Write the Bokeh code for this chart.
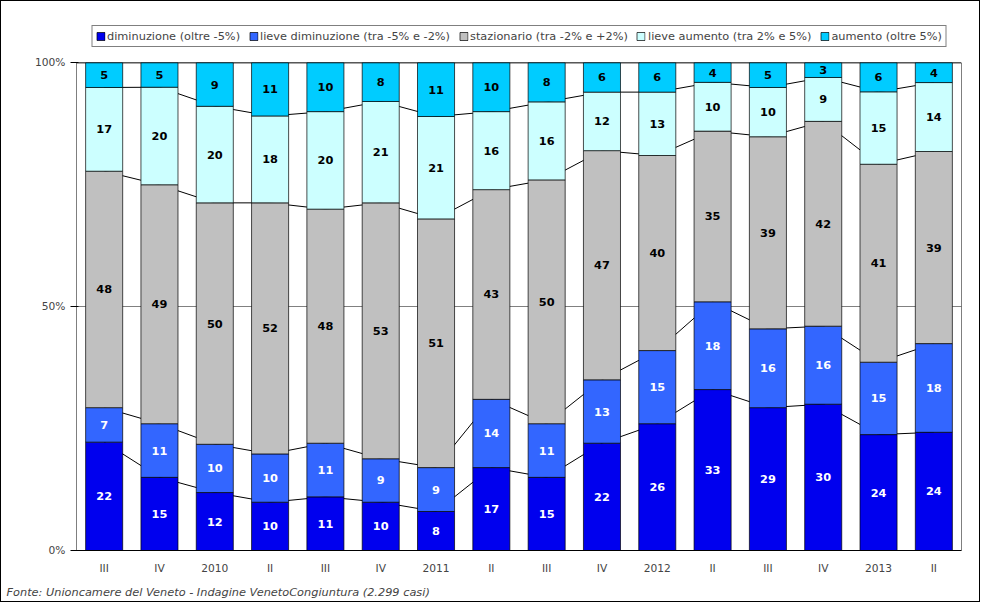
import numpy as np
from bokeh.plotting import figure
from bokeh.models import ColumnDataSource, Legend, LegendItem, FixedTicker, Title
from bokeh.core.properties import value
from bokeh.embed import file_html
from bokeh.resources import INLINE

periods = ["III", "IV", "2010", "II", "III", "IV", "2011", "II", "III", "IV",
           "2012", "II", "III", "IV", "2013", "II"]
diminuzione = [22, 15, 12, 10, 11, 10, 8, 17, 15, 22, 26, 33, 29, 30, 24, 24]
lieve_dim = [7, 11, 10, 10, 11, 9, 9, 14, 11, 13, 15, 18, 16, 16, 15, 18]
stazionario = [48, 49, 50, 52, 48, 53, 51, 43, 50, 47, 40, 35, 39, 42, 41, 39]
lieve_aum = [17, 20, 20, 18, 20, 21, 21, 16, 16, 12, 13, 10, 10, 9, 15, 14]
aumento = [5, 5, 9, 11, 10, 8, 11, 10, 8, 6, 6, 4, 5, 3, 6, 4]

series = [
    ("diminuzione (oltre -5%)", diminuzione, "#0000EE", "white"),
    ("lieve diminuzione (tra -5% e -2%)", lieve_dim, "#3366FF", "white"),
    ("stazionario (tra -2% e +2%)", stazionario, "#C0C0C0", "black"),
    ("lieve aumento (tra 2% e 5%)", lieve_aum, "#CCFFFF", "black"),
    ("aumento (oltre 5%)", aumento, "#00CCFF", "black"),
]

x = np.arange(len(periods))
vals = np.array([s[1] for s in series], dtype=float)
norm = vals / vals.sum(axis=0) * 100
cum = np.cumsum(norm, axis=0)
n = len(periods)

p = figure(width=980, height=602, output_backend="svg", toolbar_location=None,
           x_range=(-0.5, n - 0.5), y_range=(0, 109.3),
           outline_line_color=None, border_fill_color="white",
           min_border_left=75, min_border_right=20, min_border_top=16,
           min_border_bottom=47)
p.styles = {"border": "1px solid black", "box-sizing": "border-box"}

# plot-area frame
p.quad(left=[-0.5], right=[n - 0.5], bottom=[0], top=[100],
       fill_color=None, line_color="black", line_width=1)

# connecting lines behind bars
for k in range(4):
    p.line(x, cum[k], line_color="black", line_width=1)

items = []
for k, (name, v, col, tcol) in enumerate(series):
    bottom = cum[k] - norm[k]
    src = ColumnDataSource(dict(x=x, top=cum[k], bottom=bottom,
                                mid=(cum[k] + bottom) / 2,
                                lab=[str(a) for a in v]))
    r = p.vbar(x="x", width=0.67, top="top", bottom="bottom", source=src,
               fill_color=col, line_color="black", line_width=0.7)
    p.text(x="x", y="mid", text="lab", source=src, text_align="center",
           text_baseline="middle", text_font_size="8.5pt", text_font_style="bold",
           text_color=tcol, text_font=value("DejaVu Sans"))
    items.append(LegendItem(label=name, renderers=[r]))

legend = Legend(items=items, orientation="horizontal", location="top_center",
                label_text_font_size="8.5pt", label_text_font="DejaVu Sans",
                glyph_width=10, glyph_height=10, spacing=8, padding=3,
                label_standoff=2, label_height=12, border_line_color="black",
                margin=8)
p.add_layout(legend, "center")

p.add_layout(Title(text="Fonte: Unioncamere del Veneto - Indagine VenetoCongiuntura (2.299 casi)",
                   text_font_style="italic", text_font_size="8.5pt",
                   text_font="DejaVu Sans", align="left", offset=-70), "below")

p.xaxis.ticker = FixedTicker(ticks=list(x))
p.xaxis.major_label_overrides = {int(i): periods[i] for i in x}
p.xaxis.major_label_text_font_size = "8pt"
p.xaxis.major_label_text_font = "DejaVu Sans"
p.xaxis.major_tick_line_color = None
p.xaxis.minor_tick_line_color = None
p.yaxis.ticker = FixedTicker(ticks=[0, 50, 100])
p.yaxis.major_label_overrides = {0: "0%", 50: "50%", 100: "100%"}
p.yaxis.major_label_text_font_size = "8pt"
p.yaxis.major_label_text_font = "DejaVu Sans"
p.yaxis.minor_tick_line_color = None
p.yaxis.axis_line_color = None
p.xgrid.grid_line_color = None
p.ygrid.ticker = FixedTicker(ticks=[50])
p.ygrid.grid_line_color = "#808080"

open("out.html", "w").write(file_html(p, INLINE))
